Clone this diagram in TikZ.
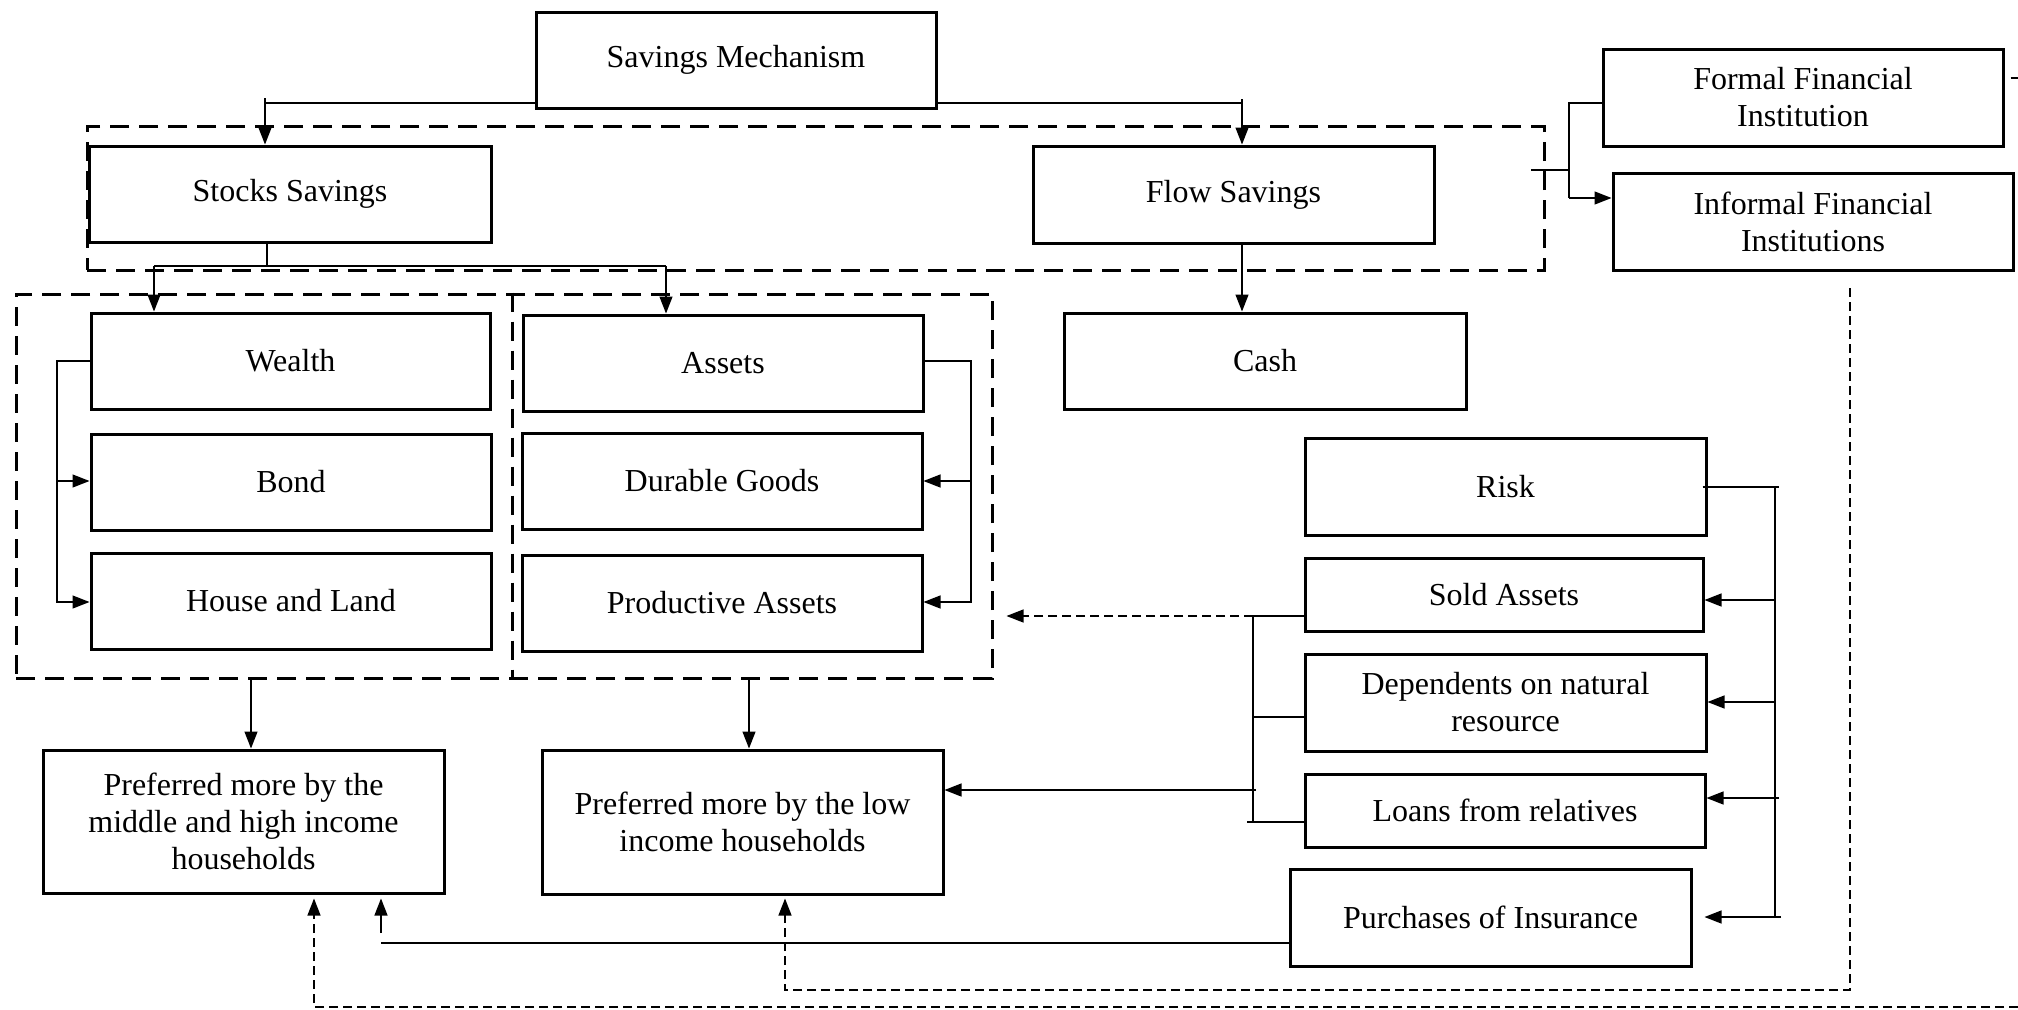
\documentclass[tikz,border=0pt]{standalone}
\usepackage{fontspec}
\setmainfont{Liberation Serif}
\usetikzlibrary{arrows.meta}
\begin{document}
\begin{tikzpicture}[x=1pt,y=-1pt,
  box/.style={draw, line width=3pt, align=center, inner sep=0pt, fill=white, font=\fontsize{32}{37}\selectfont},
  grp/.style={draw, line width=3pt, dash pattern=on 19pt off 10pt, inner sep=0pt},
  conn/.style={line width=1.3pt},
  arr/.style={conn, -{Triangle[length=17pt,width=13pt]}},
  dconn/.style={line width=1.3pt, dash pattern=on 9pt off 5pt},
  darr/.style={dconn, -{Triangle[length=17pt,width=13pt]}},
]
\useasboundingbox[fill=white] (0,0) rectangle (2018,1009);

% group boxes
\node[grp, minimum width=1457pt, minimum height=144pt] (g1) at (815.5,198) {};
\node[grp, minimum width=976pt, minimum height=384pt] (g2) at (504,486) {};
\coordinate (d1) at (512,0);
\draw[grp] (d1 |- g2.north) -- (d1 |- g2.south);

% boxes
\node[box, minimum width=400pt, minimum height=96pt] (sm) at (736,60) {Savings Mechanism};
\node[box, minimum width=402pt, minimum height=96pt] (stocks) at (290,194) {Stocks Savings};
\node[box, minimum width=401pt, minimum height=97pt] (flow) at (1233.5,194.5) {Flow Savings};
\node[box, minimum width=400pt, minimum height=97pt] (formal) at (1803,97.5) {Formal Financial\\Institution};
\node[box, minimum width=400pt, minimum height=97pt] (informal) at (1813,221.5) {Informal Financial\\Institutions};
\node[box, minimum width=399pt, minimum height=96pt] (wealth) at (290.5,361) {Wealth};
\node[box, minimum width=400pt, minimum height=96pt] (bond) at (291,482) {Bond};
\node[box, minimum width=400pt, minimum height=96pt] (house) at (291,601) {House and Land};
\node[box, minimum width=400pt, minimum height=96pt] (assets) at (723,363) {Assets};
\node[box, minimum width=400pt, minimum height=96pt] (durable) at (722,481) {Durable Goods};
\node[box, minimum width=400pt, minimum height=96pt] (productive) at (722,603) {Productive Assets};
\node[box, minimum width=402pt, minimum height=96pt] (cash) at (1265,361) {Cash};
\node[box, minimum width=401pt, minimum height=97pt] (risk) at (1505.5,486.5) {Risk};
\node[box, minimum width=398pt, minimum height=73pt] (sold) at (1504,594.5) {Sold Assets};
\node[box, minimum width=401pt, minimum height=97pt] (dep) at (1505.5,702.5) {Dependents on natural\\resource};
\node[box, minimum width=400pt, minimum height=73pt] (loans) at (1505,810.5) {Loans from relatives};
\node[box, minimum width=401pt, minimum height=97pt] (purch) at (1490.5,917.5) {Purchases of Insurance};
\node[box, minimum width=401pt, minimum height=143pt] (mid) at (243.5,821.5) {Preferred more by the\\middle and high income\\households};
\node[box, minimum width=401pt, minimum height=144pt] (low) at (742.5,822) {Preferred more by the low\\income households};

% Savings Mechanism -> Stocks / Flow
\coordinate (j1) at (265,103);
\coordinate (j1s) at (265,98);
\draw[conn] (sm.west |- j1) -- (j1);
\draw[arr] (j1s) -- (j1s |- stocks.north);
\coordinate (j2) at (1242,103);
\coordinate (j2s) at (1242,99);
\draw[conn] (sm.east |- j2) -- (j2);
\draw[arr] (j2s) -- (j2s |- flow.north);

% Stocks -> Wealth / Assets
\coordinate (j3) at (267,266);
\coordinate (j3a) at (154,266);
\coordinate (j3b) at (666,266);
\draw[conn] (j3 |- stocks.south) -- (j3);
\draw[conn] (j3a) -- (j3b);
\draw[arr] (j3a) -- (j3a |- wealth.north);
\draw[arr] (j3b) -- (j3b |- assets.north);

% Flow -> Cash
\coordinate (j4) at (1242,0);
\draw[arr] (j4 |- flow.south) -- (j4 |- cash.north);

% group -> formal / informal
\coordinate (j5) at (1569,103);
\coordinate (j6) at (1569,198);
\coordinate (j7) at (1531,170);
\coordinate (j7b) at (1569,170);
\draw[conn] (j7) -- (j7b);
\draw[conn] (formal.west |- j5) -- (j5) -- (j6);
\draw[arr] (j6) -- (informal.west |- j6);
\coordinate (fs) at (2018,78);
\draw[conn] ([xshift=6pt]formal.east |- fs) -- (fs);

% Wealth bracket
\coordinate (k1) at (57,361);
\coordinate (k2) at (57,602);
\coordinate (k3) at (57,481);
\draw[arr] (wealth.west |- k1) -- (k1) -- (k2) -- (house.west |- k2);
\draw[arr] (k3) -- (bond.west |- k3);

% Assets bracket
\coordinate (m1) at (971,361);
\coordinate (m2) at (971,602);
\coordinate (m3) at (971,481);
\draw[arr] (assets.east |- m1) -- (m1) -- (m2) -- (productive.east |- m2);
\draw[arr] (m3) -- (durable.east |- m3);

% group 2 -> preference boxes
\coordinate (n1) at (251,0);
\coordinate (n2) at (749,0);
\draw[arr] (n1 |- g2.south) -- (n1 |- mid.north);
\draw[arr] (n2 |- g2.south) -- (n2 |- low.north);

% Risk bracket
\coordinate (r1) at (1779,487);
\coordinate (r2) at (1775,487);
\coordinate (r3) at (1775,917);
\coordinate (r4) at (1781,917);
\coordinate (r5) at (1775,600);
\coordinate (r6) at (1775,702);
\coordinate (r7) at (1779,798);
\draw[conn] ([xshift=-5pt]risk.east |- r1) -- (r1);
\draw[conn] (r2) -- (r3);
\draw[arr] (r5) -- (sold.east |- r5);
\draw[arr] (r6) -- (dep.east |- r6);
\draw[arr] (r7) -- (loans.east |- r7);
\draw[arr] (r4) -- ([xshift=12pt]purch.east |- r4);

% Left bracket of risk items
\coordinate (l1) at (1253,616);
\coordinate (l2) at (1253,822);
\coordinate (l3) at (1253,717);
\coordinate (l4) at (1247,822);
\coordinate (l5) at (1256,790);
\draw[conn] (sold.west |- l1) -- (l1) -- (l2);
\draw[conn] (dep.west |- l3) -- (l3);
\draw[conn] (loans.west |- l4) -- (l4);
\draw[darr] (l1) -- ([xshift=13pt]g2.east |- l1);
\draw[arr] (l5) -- (low.east |- l5);

% Purchases -> middle/high
\coordinate (p1) at (381,943);
\coordinate (p2) at (381,933);
\draw[conn] (purch.west |- p1) -- (p1);
\draw[arr] (p2) -- ([yshift=-4pt]p2 |- mid.south);

% Informal -> low (dashed)
\coordinate (q1) at (1850,288);
\coordinate (q2) at (1850,990);
\coordinate (q3) at (785,990);
\draw[darr] (q1) -- (q2) -- (q3) -- ([yshift=-3pt]q3 |- low.south);

% Formal -> middle/high (dashed, returning from the right edge)
\coordinate (b1) at (2018,1007);
\coordinate (b2) at (314,1007);
\draw[darr] (b1) -- (b2) -- ([yshift=-4pt]b2 |- mid.south);
\end{tikzpicture}
\end{document}
